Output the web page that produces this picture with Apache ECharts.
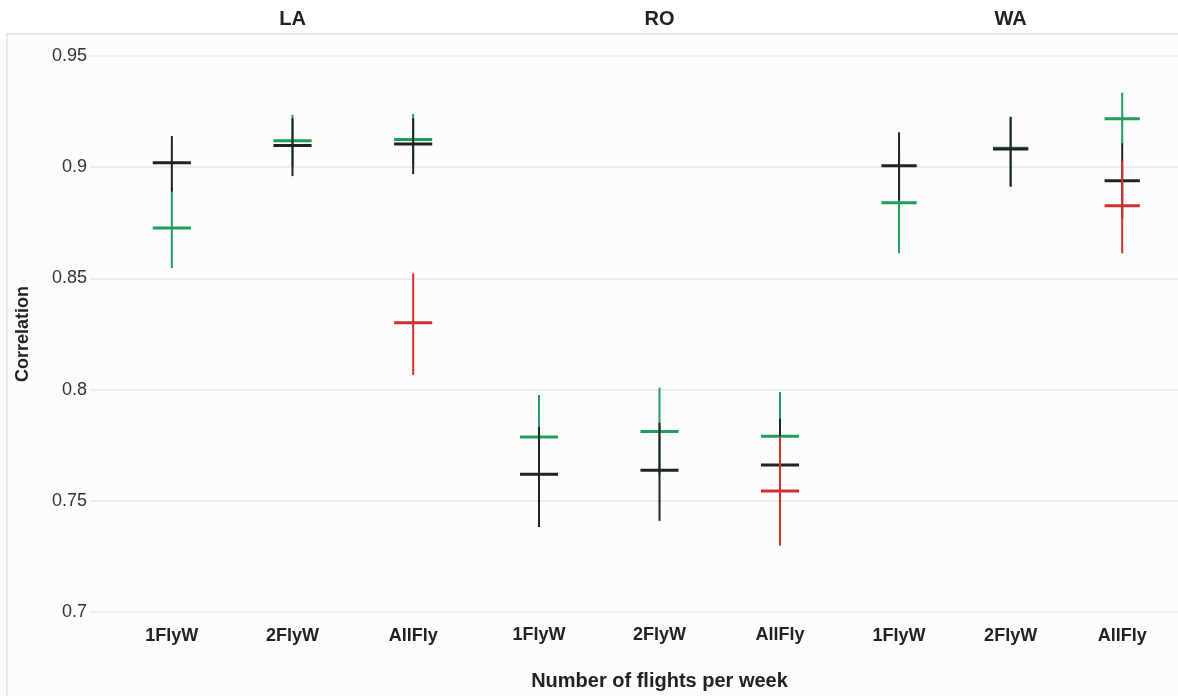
<!DOCTYPE html>
<html>
<head>
<meta charset="utf-8">
<script src="https://cdn.jsdelivr.net/npm/echarts@6/dist/echarts.min.js"></script>
<style>
  html, body { margin: 0; padding: 0; background: #ffffff; }
  #chart { width: 1178px; height: 696px; }
</style>
</head>
<body>
<div id="chart"></div>
<script>
// Sites (facets) and flight-frequency groups within each site
const sites = ['LA', 'RO', 'WA'];
const groups = ['1FlyW', '2FlyW', 'AllFly'];
const yTicks = [0.7, 0.75, 0.8, 0.85, 0.9, 0.95];

// Correlation estimates with lower / upper bounds, ordered LA(1FlyW,2FlyW,AllFly), RO(...), WA(...)
const greenMean = [0.8727, 0.9119, 0.9125, 0.7784, 0.7809, 0.7787, 0.8840, 0.9085, 0.9218];
const greenLow  = [0.8547, 0.9003, 0.9010, 0.7595, 0.7612, 0.7588, 0.8613, 0.8915, 0.9100];
const greenHigh = [0.8907, 0.9235, 0.9239, 0.7973, 0.8006, 0.7986, 0.9067, 0.9225, 0.9335];

const blackMean = [0.9020, 0.9098, 0.9104, 0.7616, 0.7634, 0.7658, 0.9007, 0.9082, 0.8939];
const blackLow  = [0.8890, 0.8960, 0.8969, 0.7378, 0.7406, 0.7450, 0.8850, 0.8912, 0.8770];
const blackHigh = [0.9140, 0.9220, 0.9220, 0.7829, 0.7848, 0.7866, 0.9157, 0.9227, 0.9107];

const redMean = [null, null, 0.8301, null, null, 0.7541, null, null, 0.8827];
const redLow  = [null, null, 0.8066, null, null, 0.7294, null, null, 0.8613];
const redHigh = [null, null, 0.8523, null, null, 0.7788, null, null, 0.9028];

const COLORS = { green: '#1f9e5c', black: '#222222', red: '#d1302f' };
const BOLD_FONT = '"Liberation Sans", Arial, sans-serif';
const FONT = '"Liberation Sans", Arial, sans-serif';

// Panel placement for the three site facets
const facetGrids = [
  { left: 111.5, width: 362 },
  { left: 478.75, width: 361.5 },
  { left: 843.25, width: 358.5 }
];
const PLOT_TOP = 56, PLOT_BOTTOM = 84;

function facetData(mean, low, high, f) {
  const out = [];
  for (let c = 0; c < groups.length; c++) {
    const i = f * groups.length + c;
    if (mean[i] != null) out.push([c, mean[i], low[i], high[i]]);
  }
  return out;
}

// Error bar: vertical interval line plus a horizontal tick at the estimate
function renderCross(params, api) {
  const cat = api.value(0);
  const pm = api.coord([cat, api.value(1)]);
  const plo = api.coord([cat, api.value(2)]);
  const phi = api.coord([cat, api.value(3)]);
  const half = api.size([1, 0])[0] * 0.158;
  const color = api.visual('color');
  return {
    type: 'group',
    children: [
      { type: 'line', shape: { x1: pm[0], y1: phi[1], x2: pm[0], y2: plo[1] },
        style: { stroke: color, lineWidth: 2 } },
      { type: 'line', shape: { x1: pm[0] - half, y1: pm[1], x2: pm[0] + half, y2: pm[1] },
        style: { stroke: color, lineWidth: 3 } }
    ]
  };
}

const grid = [{ left: 90, right: 0, top: PLOT_TOP, bottom: PLOT_BOTTOM }];
const xAxis = [{ type: 'value', gridIndex: 0, show: false, min: 0, max: 1 }];
const yAxis = [{
  type: 'value', gridIndex: 0, min: yTicks[0], max: yTicks[yTicks.length - 1], interval: 0.05,
  name: 'Correlation', nameLocation: 'middle', nameGap: 58, nameRotate: 90,
  nameTextStyle: { fontFamily: BOLD_FONT, fontWeight: 'bold', fontSize: 18, color: '#222' },
  axisLine: { show: false }, axisTick: { show: false },
  axisLabel: { fontFamily: FONT, fontSize: 18, color: '#333', margin: 3 },
  splitLine: { lineStyle: { color: '#e9e9e9', width: 1.5 } }
}];
const series = [];

sites.forEach((site, f) => {
  const g = f + 1;
  grid.push({ left: facetGrids[f].left, width: facetGrids[f].width, top: PLOT_TOP, bottom: PLOT_BOTTOM });
  // bottom axis: group labels
  xAxis.push({
    type: 'category', gridIndex: g, data: groups, position: 'bottom',
    axisLine: { show: false }, axisTick: { show: false }, splitLine: { show: false },
    axisLabel: { fontFamily: BOLD_FONT, fontWeight: 'bold', fontSize: 18, color: '#222', margin: 15 },
    name: f === 1 ? 'Number of flights per week' : '',
    nameLocation: 'middle', nameGap: 60,
    nameTextStyle: { fontFamily: BOLD_FONT, fontWeight: 'bold', fontSize: 20, color: '#222' }
  });
  // top axis: site strip title
  xAxis.push({
    type: 'category', gridIndex: g, data: groups, position: 'top',
    axisLine: { show: false }, axisTick: { show: false }, axisLabel: { show: false }, splitLine: { show: false },
    name: site, nameLocation: 'middle', nameGap: 27,
    nameTextStyle: { fontFamily: BOLD_FONT, fontWeight: 'bold', fontSize: 20, color: '#222' }
  });
  yAxis.push({
    type: 'value', gridIndex: g, min: yTicks[0], max: yTicks[yTicks.length - 1], interval: 0.05,
    show: false, splitLine: { show: false }
  });
  const xIdx = xAxis.length - 2, yIdx = yAxis.length - 1;
  [['green', greenMean, greenLow, greenHigh],
   ['black', blackMean, blackLow, blackHigh],
   ['red', redMean, redLow, redHigh]].forEach(([key, m, lo, hi]) => {
    series.push({
      type: 'custom', name: key, xAxisIndex: xIdx, yAxisIndex: yIdx,
      renderItem: renderCross, itemStyle: { color: COLORS[key] },
      encode: { x: 0, y: [1, 2, 3] },
      data: facetData(m, lo, hi, f), clip: false
    });
  });
});

const chart = echarts.init(document.getElementById('chart'), null, { renderer: 'canvas' });
chart.setOption({
  animation: false,
  backgroundColor: '#ffffff',
  graphic: [{
    type: 'rect', left: 6, top: 33, z: -10, silent: true,
    shape: { width: 1200, height: 700 },
    style: { fill: '#fcfcfc', stroke: '#e2e2e2', lineWidth: 1.5 }
  }],
  grid, xAxis, yAxis, series
});
</script>
</body>
</html>
